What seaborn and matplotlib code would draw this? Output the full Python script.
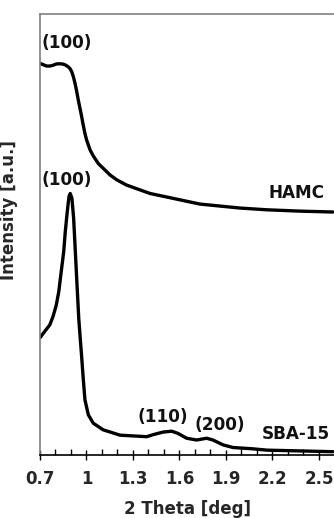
import matplotlib
matplotlib.use("Agg")
import matplotlib.pyplot as plt
import seaborn as sns
import pandas as pd
from matplotlib.ticker import MultipleLocator, FixedLocator

sns.set_style("ticks")
plt.rcParams['font.family'] = ['DejaVu Sans']
plt.rcParams['font.weight'] = 'bold'

# Data
hamc_x = [0.700, 0.721, 0.743, 0.765, 0.786, 0.808, 0.840, 0.861, 0.883, 0.894,
          0.905, 0.915, 0.926, 0.937, 0.947, 0.958, 0.969, 0.979, 0.990, 1.001,
          1.023, 1.044, 1.076, 1.108, 1.152, 1.195, 1.259, 1.410, 1.732, 1.990,
          2.165, 2.377, 2.590]
hamc_y = [88.8, 88.5, 88.2, 88.2, 88.4, 88.7, 88.7, 88.5, 88.0, 87.6,
          86.9, 85.8, 84.3, 82.4, 80.5, 78.6, 76.7, 74.8, 72.9, 71.4,
          69.2, 67.8, 66.1, 65.0, 63.5, 62.4, 61.2, 59.3, 56.9, 56.0,
          55.6, 55.3, 55.1]

sba_x = [0.700, 0.7045, 0.730, 0.763, 0.784, 0.805, 0.821, 0.837, 0.853, 0.863,
         0.876, 0.887, 0.895, 0.906, 0.917, 0.928, 0.939, 0.950, 0.958, 0.969,
         0.979, 0.990, 1.012, 1.044, 1.108, 1.216, 1.388, 1.429, 1.494, 1.550,
         1.590, 1.646, 1.711, 1.775, 1.816, 1.881, 1.945, 2.074, 2.165, 2.590]
sba_y = [26.6, 26.8, 28.0, 29.5, 31.4, 34.0, 37.0, 41.6, 46.1, 50.6,
         55.2, 58.6, 59.3, 58.2, 53.7, 46.1, 38.5, 31.0, 27.2, 22.2,
         17.3, 12.5, 9.1, 7.2, 5.7, 4.5, 4.15, 4.6, 5.2, 5.4,
         4.9, 3.8, 3.4, 3.8, 3.4, 2.3, 1.7, 1.4, 1.1, 0.75]

tick_values = [0.7, 1.0, 1.3, 1.6, 1.9, 2.2, 2.5]
tick_labels = ["0.7", "1", "1.3", "1.6", "1.9", "2.2", "2.5"]

annotations = [("(100)", 0.874, 93.4), ("(100)", 0.874, 62.4), ("HAMC", 2.352, 59.4),
               ("(110)", 1.494, 8.6), ("(200)", 1.861, 6.8), ("SBA-15", 2.352, 4.8)]

df = pd.concat([
    pd.DataFrame({"x": hamc_x, "y": hamc_y, "s": "HAMC"}),
    pd.DataFrame({"x": sba_x, "y": sba_y, "s": "SBA-15"}),
])

fig = plt.figure(figsize=(3.34, 5.18), dpi=100)
ax = fig.add_axes([40/334, 63/518, 294/334, 441/518])
sns.lineplot(data=df, x="x", y="y", units="s", estimator=None, sort=False,
             color="black", linewidth=2.4, ax=ax, legend=False)
for line in ax.get_lines():
    line.set_solid_joinstyle("round")
    line.set_solid_capstyle("round")

ax.set_xlim(0.7, 2.597)
ax.set_ylim(0, 100)
ax.set_yticks([])
ax.xaxis.set_major_locator(FixedLocator(tick_values))
ax.set_xticklabels(tick_labels, fontsize=12, fontweight='bold')
ax.xaxis.set_minor_locator(MultipleLocator(0.1))
ax.tick_params(axis='x', which='major', direction='inout', length=7, width=1, color='black', pad=7)
ax.tick_params(axis='x', which='minor', direction='in', length=4, width=1, color='black')

ax.spines['right'].set_visible(False)
for side in ['top', 'left']:
    ax.spines[side].set_color('#808080')
    ax.spines[side].set_linewidth(1.2)
ax.spines['bottom'].set_color('black')
ax.spines['bottom'].set_linewidth(1.2)

ax.set_xlabel("2 Theta [deg]", fontsize=12, fontweight='bold', labelpad=9)
ax.set_ylabel("Intensity [a.u.]", fontsize=12, fontweight='bold')
ax.yaxis.set_label_coords(-0.075, 0.556)

for txt, x, y in annotations:
    ax.text(x, y, txt, ha='center', va='center', fontsize=12.2, fontweight='bold', color='#111111')

fig.savefig("out.png", dpi=100)
